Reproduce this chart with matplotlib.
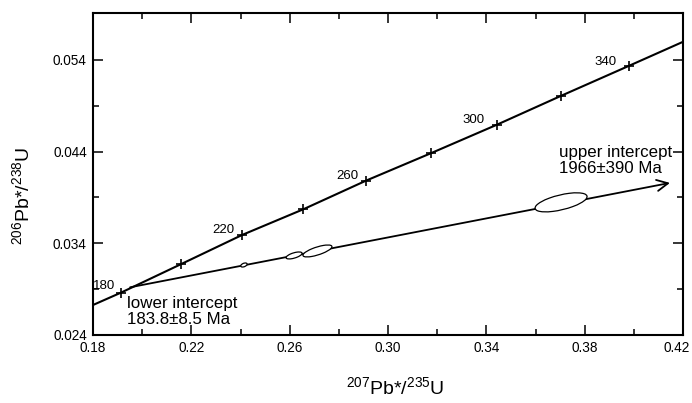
import matplotlib
matplotlib.use("Agg")
import matplotlib.pyplot as plt
import matplotlib.transforms as mtransforms
from matplotlib.patches import Ellipse
from matplotlib.ticker import MultipleLocator, FixedLocator
import numpy as np

# concordia curve (207Pb*/235U, 206Pb*/238U)
conc_x = [0.180, 0.1914, 0.2157, 0.2407, 0.2656, 0.2911, 0.3175, 0.3442, 0.3704, 0.3981, 0.420]
conc_y = [0.02727, 0.02862, 0.03171, 0.03491, 0.03771, 0.04083, 0.04382, 0.04691, 0.05007, 0.05335, 0.05596]
# age ticks along the concordia (Ma)
tick_ages = [180, 200, 220, 240, 260, 280, 300, 320, 340]
tick_x = conc_x[1:-1]
tick_y = conc_y[1:-1]
labelled_ages = [180, 220, 260, 300, 340]

# discordia: lower intercept -> arrow toward upper intercept
disc_lo = (0.1951, 0.02920)
disc_hi = (0.4147, 0.04058)

# analyses: centre, half-extents and error correlation
ell_x = [0.2414, 0.2618, 0.2713, 0.3704]
ell_y = [0.03163, 0.03267, 0.03316, 0.03846]
ell_sx = [0.0013, 0.00325, 0.0059, 0.01058]
ell_sy = [0.00022, 0.00038, 0.00065, 0.00104]
ell_rho = [0.45, 0.62, 0.72, 0.6]

x_major = [0.18, 0.22, 0.26, 0.30, 0.34, 0.38, 0.42]
y_major = [0.024, 0.034, 0.044, 0.054]
y_minor = [0.029, 0.039, 0.049]

plt.rcParams.update({
    "font.family": "Liberation Sans",
    "mathtext.fontset": "custom",
    "mathtext.rm": "Liberation Sans",
    "mathtext.it": "Liberation Sans:italic",
    "mathtext.bf": "Liberation Sans:bold",
})

fig = plt.figure(figsize=(6.92, 4.03), dpi=100)
ax = fig.add_axes([93 / 692, 1 - 335 / 403, 590 / 692, 322 / 403])

# concordia
ax.plot(conc_x, conc_y, color="black", lw=1.5, zorder=3, solid_capstyle="butt")
ax.plot(tick_x, tick_y, ls="none", marker="+", ms=7, mew=1.2, color="black", zorder=4)
# label offsets (points) – the 180 label sits tight against the axis
lab_off = {180: (-4.0, 5.0), 220: (-5.5, 3.5), 260: (-5.5, 3.0), 300: (-9.0, 3.5), 340: (-9.0, 3.0)}
for age, x, y in zip(tick_ages, tick_x, tick_y):
    if age in labelled_ages:
        ax.annotate(str(age), xy=(x, y), xytext=lab_off[age], textcoords="offset points",
                    ha="right", va="center", fontsize=9.5)

# discordia with arrow
ax.annotate("", xy=disc_hi, xytext=disc_lo,
            arrowprops=dict(arrowstyle="->", lw=1.3, color="black",
                            shrinkA=0, shrinkB=0, mutation_scale=20),
            zorder=3)

# error ellipses
for cx, cy, sx, sy, rho in zip(ell_x, ell_y, ell_sx, ell_sy, ell_rho):
    e = Ellipse((0, 0), width=2 * np.sqrt(1 + rho), height=2 * np.sqrt(1 - rho),
                facecolor="white", edgecolor="black", lw=0.9, zorder=5)
    tr = mtransforms.Affine2D().rotate_deg(45).scale(sx, sy).translate(cx, cy)
    e.set_transform(tr + ax.transData)
    ax.add_patch(e)

# intercept notes
ax.text(0.1938, 0.02695, "lower intercept", fontsize=12.2, ha="left", va="baseline")
ax.text(0.1938, 0.02520, "183.8\u00b18.5 Ma", fontsize=12.2, ha="left", va="baseline")
ax.text(0.3696, 0.04345, "upper intercept", fontsize=12.2, ha="left", va="baseline")
ax.text(0.3696, 0.04171, "1966\u00b1390 Ma", fontsize=12.2, ha="left", va="baseline")

ax.set_xlim(0.18, 0.42)
ax.set_ylim(0.024, 0.0591)
ax.xaxis.set_major_locator(FixedLocator(x_major))
ax.xaxis.set_minor_locator(MultipleLocator(0.02))
ax.yaxis.set_major_locator(FixedLocator(y_major))
ax.yaxis.set_minor_locator(FixedLocator(y_minor))
ax.set_xticklabels([f"{v:.2f}" for v in x_major])
ax.set_yticklabels([f"{v:.3f}" for v in y_major])
ax.tick_params(which="both", direction="in", top=True, right=True, width=1.1,
               labelsize=9.8, pad=4.5)
ax.tick_params(which="major", length=7.2)
ax.tick_params(which="minor", length=4.0)
for s in ax.spines.values():
    s.set_linewidth(1.5)

# keep the last x label inside the canvas
last = ax.get_xticklabels()[-1]
last.set_transform(last.get_transform()
                   + mtransforms.ScaledTranslation(-6 / 100, 0, fig.dpi_scale_trans))

fig.text(395 / 692, 1 - 394 / 403, r"$^{207}$Pb*/$^{235}$U", fontsize=14,
         ha="center", va="baseline")
fig.text(22 / 692, 1 - 196 / 403, r"$^{206}$Pb*/$^{238}$U", fontsize=14,
         ha="center", va="center", rotation=90)

fig.savefig("out.png", dpi=100)
